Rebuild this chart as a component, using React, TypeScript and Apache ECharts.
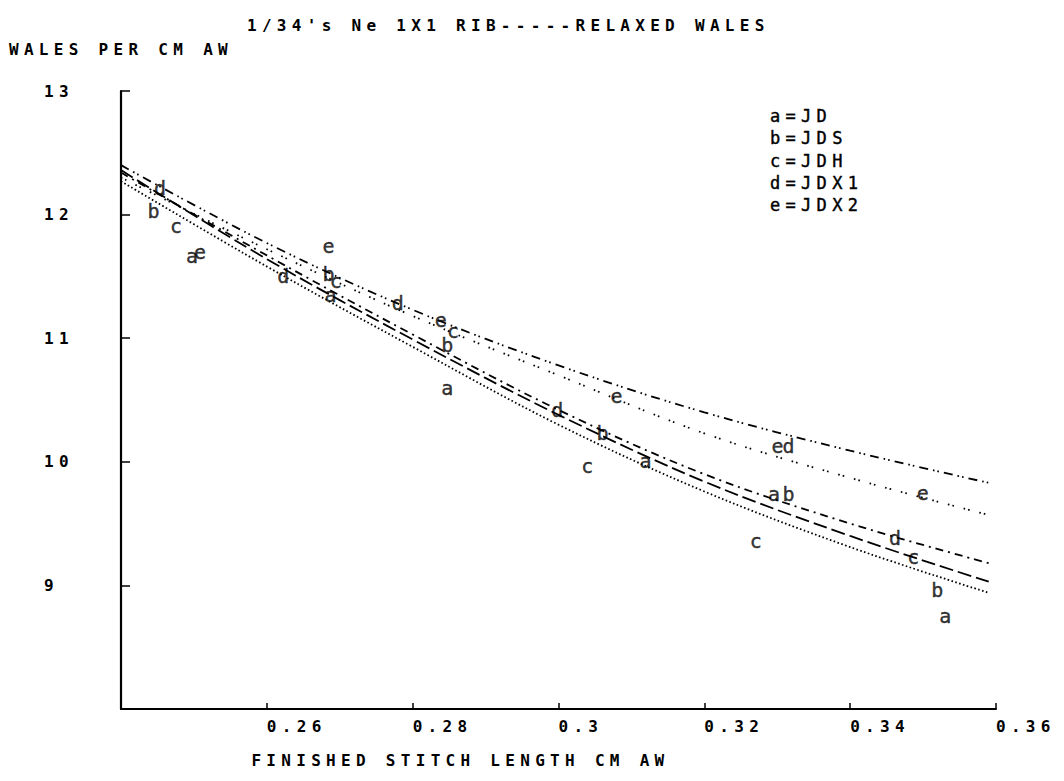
import React, { useEffect, useRef } from 'react';
import * as echarts from 'echarts';

// ---- data ----
const titleText = "1/34's Ne 1X1 RIB-----RELAXED WALES";
const xAxisName = 'FINISHED STITCH LENGTH CM AW';
const yAxisName = 'WALES PER CM AW';

const letters = ['a', 'b', 'c', 'd', 'e'];
const yarnNames = ['JD', 'JDS', 'JDH', 'JDX1', 'JDX2'];

// observed points [stitch length, wales per cm]
const pointsJD = [[0.2497, 11.65], [0.2687, 11.33], [0.2847, 10.58], [0.3119, 9.99], [0.3295, 9.72], [0.353, 8.74]];
const pointsJDS = [[0.2444, 12.01], [0.2684, 11.5], [0.2847, 10.93], [0.306, 10.22], [0.3315, 9.72], [0.3519, 8.95]];
const pointsJDH = [[0.2475, 11.89], [0.2694, 11.45], [0.2855, 11.04], [0.3039, 9.95], [0.327, 9.34], [0.3486, 9.21]];
const pointsJDX1 = [[0.2453, 12.2], [0.2622, 11.49], [0.2779, 11.27], [0.2998, 10.4], [0.3315, 10.11], [0.3461, 9.37]];
const pointsJDX2 = [[0.2508, 11.68], [0.2684, 11.73], [0.2838, 11.13], [0.3079, 10.52], [0.33, 10.11], [0.3499, 9.73]];
const pointSets = [pointsJD, pointsJDS, pointsJDH, pointsJDX1, pointsJDX2];

// fitted curves
const curveX = [0.24, 0.26, 0.28, 0.3, 0.32, 0.34, 0.359];
const curveDenseDotted = [12.27, 11.58, 10.93, 10.3, 9.76, 9.31, 8.94];
const curveLongDash = [12.36, 11.64, 10.99, 10.38, 9.84, 9.4, 9.03];
const curveDashDot = [12.34, 11.67, 11.03, 10.42, 9.9, 9.5, 9.18];
const curveSparseDotted = [12.3, 11.72, 11.18, 10.7, 10.23, 9.87, 9.57];
const curveDashDotDot = [12.4, 11.77, 11.23, 10.78, 10.4, 10.09, 9.83];

const curves = [
  { name: 'curve1', values: curveDenseDotted, dash: [1.6, 2.4] },
  { name: 'curve2', values: curveLongDash, dash: [14, 5] },
  { name: 'curve3', values: curveDashDot, dash: [8, 5, 2, 5] },
  { name: 'curve4', values: curveSparseDotted, dash: [1.6, 3, 1.6, 10] },
  { name: 'curve5', values: curveDashDotDot, dash: [9, 5, 1.6, 3, 1.6, 5] },
];

const FONT = 'DejaVu Sans Mono';
const INK = '#000';

export default function App() {
  const ref = useRef<HTMLDivElement>(null);
  useEffect(() => {
    document.body.style.margin = '0';
    const chart = echarts.init(ref.current as HTMLDivElement, null, { renderer: 'svg' });
    const textBase = { fontFamily: FONT, fontSize: 16, color: INK, fontWeight: 'bold' as const };

    const lineSeries = curves.map((c) => ({
      name: c.name,
      type: 'line',
      smooth: 0.35,
      showSymbol: false,
      silent: true,
      data: curveX.map((x, i) => [x, c.values[i]]),
      lineStyle: { color: INK, width: 1.8, type: c.dash },
      z: 2,
    }));

    const scatterSeries = pointSets.map((pts, i) => ({
      name: yarnNames[i],
      type: 'scatter',
      symbol: 'circle',
      symbolSize: 1,
      itemStyle: { color: 'rgba(0,0,0,0)' },
      data: pts,
      label: {
        show: true,
        position: 'inside',
        offset: [3, -2],
        formatter: () => letters[i],
        ...textBase,
        fontWeight: 'normal',
        fontSize: 20,
        textBorderColor: INK,
        textBorderWidth: 0.4,
      },
      z: 3,
    }));

    chart.setOption({
      animation: false,
      backgroundColor: '#fff',
      title: {
        text: titleText,
        left: 242,
        top: 12,
        textStyle: textBase,
      },
      legend: {
        orient: 'vertical',
        left: 760,
        top: 102,
        data: yarnNames,
        icon: 'rect',
        itemWidth: 0,
        itemHeight: 16,
        itemGap: 5,
        selectedMode: false,
        itemStyle: { opacity: 0 },
        formatter: (n: string) => letters[yarnNames.indexOf(n)] + '=' + n,
        textStyle: { ...textBase, fontWeight: 'normal', fontSize: 17, lineHeight: 16, textBorderColor: INK, textBorderWidth: 0.4 },
      },
      grid: { left: 121, right: 68, top: 91, bottom: 72 },
      xAxis: {
        type: 'value',
        min: 0.24,
        max: 0.36,
        interval: 0.02,
        name: xAxisName,
        nameLocation: 'middle',
        nameGap: 43,
        nameTextStyle: { ...textBase, padding: [0, 196, 0, 0] },
        axisLine: { onZero: false, lineStyle: { color: INK, width: 2 } },
        axisTick: { inside: true, length: 6, lineStyle: { color: INK, width: 1.5 } },
        axisLabel: { showMinLabel: false, align: 'left', margin: 9, ...textBase },
        splitLine: { show: false },
      },
      yAxis: {
        type: 'value',
        min: 8,
        max: 13,
        interval: 1,
        name: yAxisName,
        nameLocation: 'end',
        nameGap: 34,
        nameTextStyle: textBase,
        axisLine: { onZero: false, lineStyle: { color: INK, width: 2.2 } },
        axisTick: { inside: true, length: 9, lineStyle: { color: INK, width: 1.5 } },
        axisLabel: { showMinLabel: false, align: 'left', margin: 77, padding: [6, 0, 0, 0], ...textBase },
        splitLine: { show: false },
      },
      series: [...lineSeries, ...scatterSeries],
    });
    return () => chart.dispose();
  }, []);
  return (
    <div
      ref={ref}
      style={{ width: 1064, height: 781, letterSpacing: '5.3px', background: '#fff' }}
    />
  );
}
